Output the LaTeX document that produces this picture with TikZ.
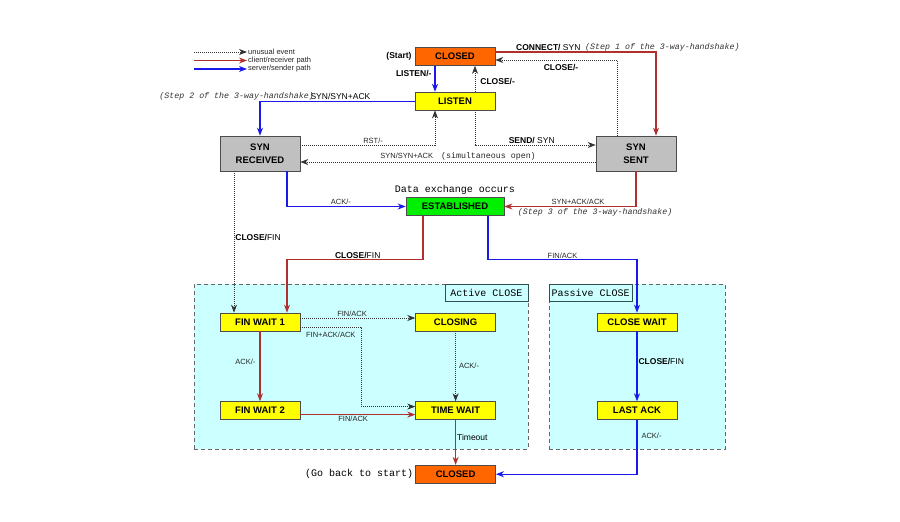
\documentclass[tikz,border=0pt]{standalone}
\usepackage{fontspec}
\setmainfont{Liberation Sans}
\setmonofont{Liberation Mono}
\usetikzlibrary{positioning,arrows.meta}
\definecolor{clientred}{RGB}{176,48,48}
\definecolor{serverblue}{RGB}{25,25,235}
\definecolor{closedorange}{RGB}{255,102,0}
\definecolor{stateyellow}{RGB}{255,255,0}
\definecolor{estgreen}{RGB}{0,240,0}
\definecolor{syngray}{RGB}{192,192,192}
\definecolor{zonecyan}{RGB}{204,255,255}
\definecolor{zoneedge}{RGB}{50,80,80}

\begin{document}
\begin{tikzpicture}[x=1pt, y=-1pt,
	>={Stealth[length=8pt,width=6pt,inset=2.5pt]},
	every node/.style={inner sep=1pt, text=black},
	state/.style={draw=black!70, line width=0.6pt,
				  minimum width=80pt, minimum height=18pt,
				  inner sep=0pt,
				  font=\bfseries\fontsize{9.5}{13}\selectfont
	},
	twoline/.style={state, minimum height=35pt, align=center},
	zone/.style={draw=black!60, dash pattern=on 4pt off 3pt, fill=zonecyan,
				 minimum height=165pt, inner sep=0pt},
	zonelabel/.style={draw=zoneedge, line width=0.7pt, fill=zonecyan,
					  minimum width=83pt, minimum height=17pt,
					  font=\ttfamily\fontsize{10}{12}\selectfont},
	unusual/.style={->, draw=black!80, line width=0.8pt, dash pattern=on 1pt off 1pt},
	client/.style={->, draw=clientred, line width=1.1pt},
	server/.style={->, draw=serverblue, line width=1.1pt},
	lbl/.style={font=\fontsize{7.5}{9}\selectfont, text=black!85},
	biglbl/.style={font=\fontsize{8.5}{10}\selectfont},
	steptext/.style={font=\ttfamily\itshape\fontsize{8.3}{10}\selectfont, text=black!80},
	tttext/.style={font=\ttfamily\fontsize{10}{12}\selectfont}
]
	\fill[white] (0,0) rectangle (900,522);

	\node (active) [zone, minimum width=334pt] at (361,366.5) {};
	\node (passive) [zone, minimum width=176pt] at (637,366.5) {};
	\node (activelbl) [zonelabel, anchor=north east] at (active.north east) {Active CLOSE};
	\node (passivelbl) [zonelabel, anchor=north west] at (passive.north west) {Passive CLOSE};

	\node (closed) [state, fill=closedorange] at (455,56.5) {CLOSED};
	\node (listen) [state, fill=stateyellow, below=26pt of closed] {LISTEN};
	\node (synrcvd) [twoline, fill=syngray] at (260,153.5) {SYN\\RECEIVED};
	\node (synsent) [twoline, fill=syngray] at (636,153.5) {SYN\\SENT};
	\node (established) [state, fill=estgreen, minimum width=98pt] at (455,206.5) {ESTABLISHED};
	\node (finwaitone) [state, fill=stateyellow] at (260,322) {FIN WAIT 1};
	\node (closing) [state, fill=stateyellow, right=115pt of finwaitone] {CLOSING};
	\node (finwaittwo) [state, fill=stateyellow, below=70pt of finwaitone] {FIN WAIT 2};
	\node (timewait) [state, fill=stateyellow, below=70pt of closing] {TIME WAIT};
	\node (closewait) [state, fill=stateyellow] at (637,322) {CLOSE WAIT};
	\node (lastack) [state, fill=stateyellow, below=70pt of closewait] {LAST ACK};
	\node (closedend) [state, fill=closedorange, below=45pt of timewait] {CLOSED};

	\node (start) [biglbl, left=2pt of closed] {\textbf{(Start)}};
	\node (gostart) [tttext, left=1pt of closedend] {(Go back to start)};
	\node (dataex) [tttext, above=1pt of established] {Data exchange occurs};

	\node (lgunusual) [lbl, anchor=west] at (247,52) {unusual event};
	\node (lgclient) [lbl, anchor=west] at (247,60.5) {client/receiver path};
	\node (lgserver) [lbl, anchor=west] at (247,69) {server/sender path};
	\coordinate (lgu) at (194,52);
	\coordinate (lgc) at (194,60.5);
	\coordinate (lgs) at (194,69);
	\draw[unusual] (lgu) -- (lgunusual);
	\draw[client] (lgc) -- (lgclient);
	\draw[server] (lgs) -- (lgserver);

	\draw[server] ([xshift=-20pt]closed.south) -- node[biglbl, left=2pt, pos=.29] {\textbf{LISTEN/-}} ([xshift=-20pt]listen.north);
	\draw[unusual] ([xshift=20pt]listen.north) -- node[biglbl, right=4pt, pos=.4] {\textbf{CLOSE/-}} ([xshift=20pt]closed.south);
	\draw[client] ([yshift=4.5pt]closed.east) -| node (connectlbl) [biglbl, above, pos=.165] {\textbf{CONNECT/} SYN} ([xshift=20pt]synsent.north);
	\node (stepone) [steptext, right=2pt of connectlbl] {(Step 1 of the 3-way-handshake)};
	\draw[unusual] ([xshift=-19pt]synsent.north) |- node[biglbl, below=3pt, pos=.73] {\textbf{CLOSE/-}} ([yshift=-3.5pt]closed.east);
	\draw[server] (listen.west) -| node (synacklbl) [biglbl, above, pos=.24] {SYN/SYN+ACK} (synrcvd.north);
	\node (steptwo) [steptext, left=-6pt of synacklbl] {(Step 2 of the 3-way-handshake)};
	\draw[unusual] ([yshift=8.5pt]synrcvd.east) -| node[lbl, above, pos=.27] {RST/-} ([xshift=-20pt]listen.south);
	\draw[unusual] ([xshift=20pt]listen.south) |- node[biglbl, above, pos=.735] {\textbf{SEND/} SYN} ([yshift=8.5pt]synsent.west);
	\draw[unusual] ([yshift=-8.5pt]synsent.west) -- node[lbl, above, pos=.466] {SYN/SYN+ACK\hspace{8pt}{\ttfamily\fontsize{8.3}{10}\selectfont(simultaneous open)}} ([yshift=-8.5pt]synrcvd.east);
	\draw[server] ([xshift=27pt]synrcvd.south) |- node[lbl, above, pos=.727] {ACK/-} (established.west);
	\draw[client] (synsent.south) |- node[lbl, above, pos=.72] {SYN+ACK/ACK} node[steptext, below, pos=.655] {(Step 3 of the 3-way-handshake)} (established.east);

	\draw[client] ([xshift=-32pt]established.south) -- ++(0,44) -| node[biglbl, above, pos=.24] {\textbf{CLOSE/}FIN} ([xshift=27pt]finwaitone.north);
	\draw[unusual] ([xshift=-26pt]synrcvd.south) -- node[biglbl, right, pos=.47] {\textbf{CLOSE/}FIN} ([xshift=-26pt]finwaitone.north);
	\draw[server] ([xshift=33pt]established.south) -- ++(0,44) -| node[lbl, above, pos=.25] {FIN/ACK} (closewait.north);

	\draw[unusual] ([yshift=4pt]finwaitone.east) -- node[lbl, above, pos=.45] {FIN/ACK} ([yshift=4pt]closing.west);
	\draw[unusual] ([yshift=-5pt]finwaitone.east) -- node[lbl, below=4pt] {FIN+ACK/ACK} ++(61,0) |- ([yshift=4pt]timewait.west);
	\draw[client] (finwaitone) -- node[lbl, left=3pt, pos=.44] {ACK/-} (finwaittwo);
	\draw[unusual] (closing) -- node[lbl, right=2pt, pos=.49] {ACK/-} (timewait);
	\draw[client] ([yshift=-4pt]finwaittwo.east) -- node[lbl, below, pos=.46] {FIN/ACK} ([yshift=-4pt]timewait.west);
	\draw[client] (timewait) -- node[biglbl, right, pos=.4] {Timeout} (closedend);
	\draw[server] (closewait) -- node[biglbl, right, pos=.43] {\textbf{CLOSE/}FIN} (lastack);
	\draw[server] (lastack) |- node[lbl, right=3pt, pos=.15] {ACK/-} (closedend);

\end{tikzpicture}
\end{document}
